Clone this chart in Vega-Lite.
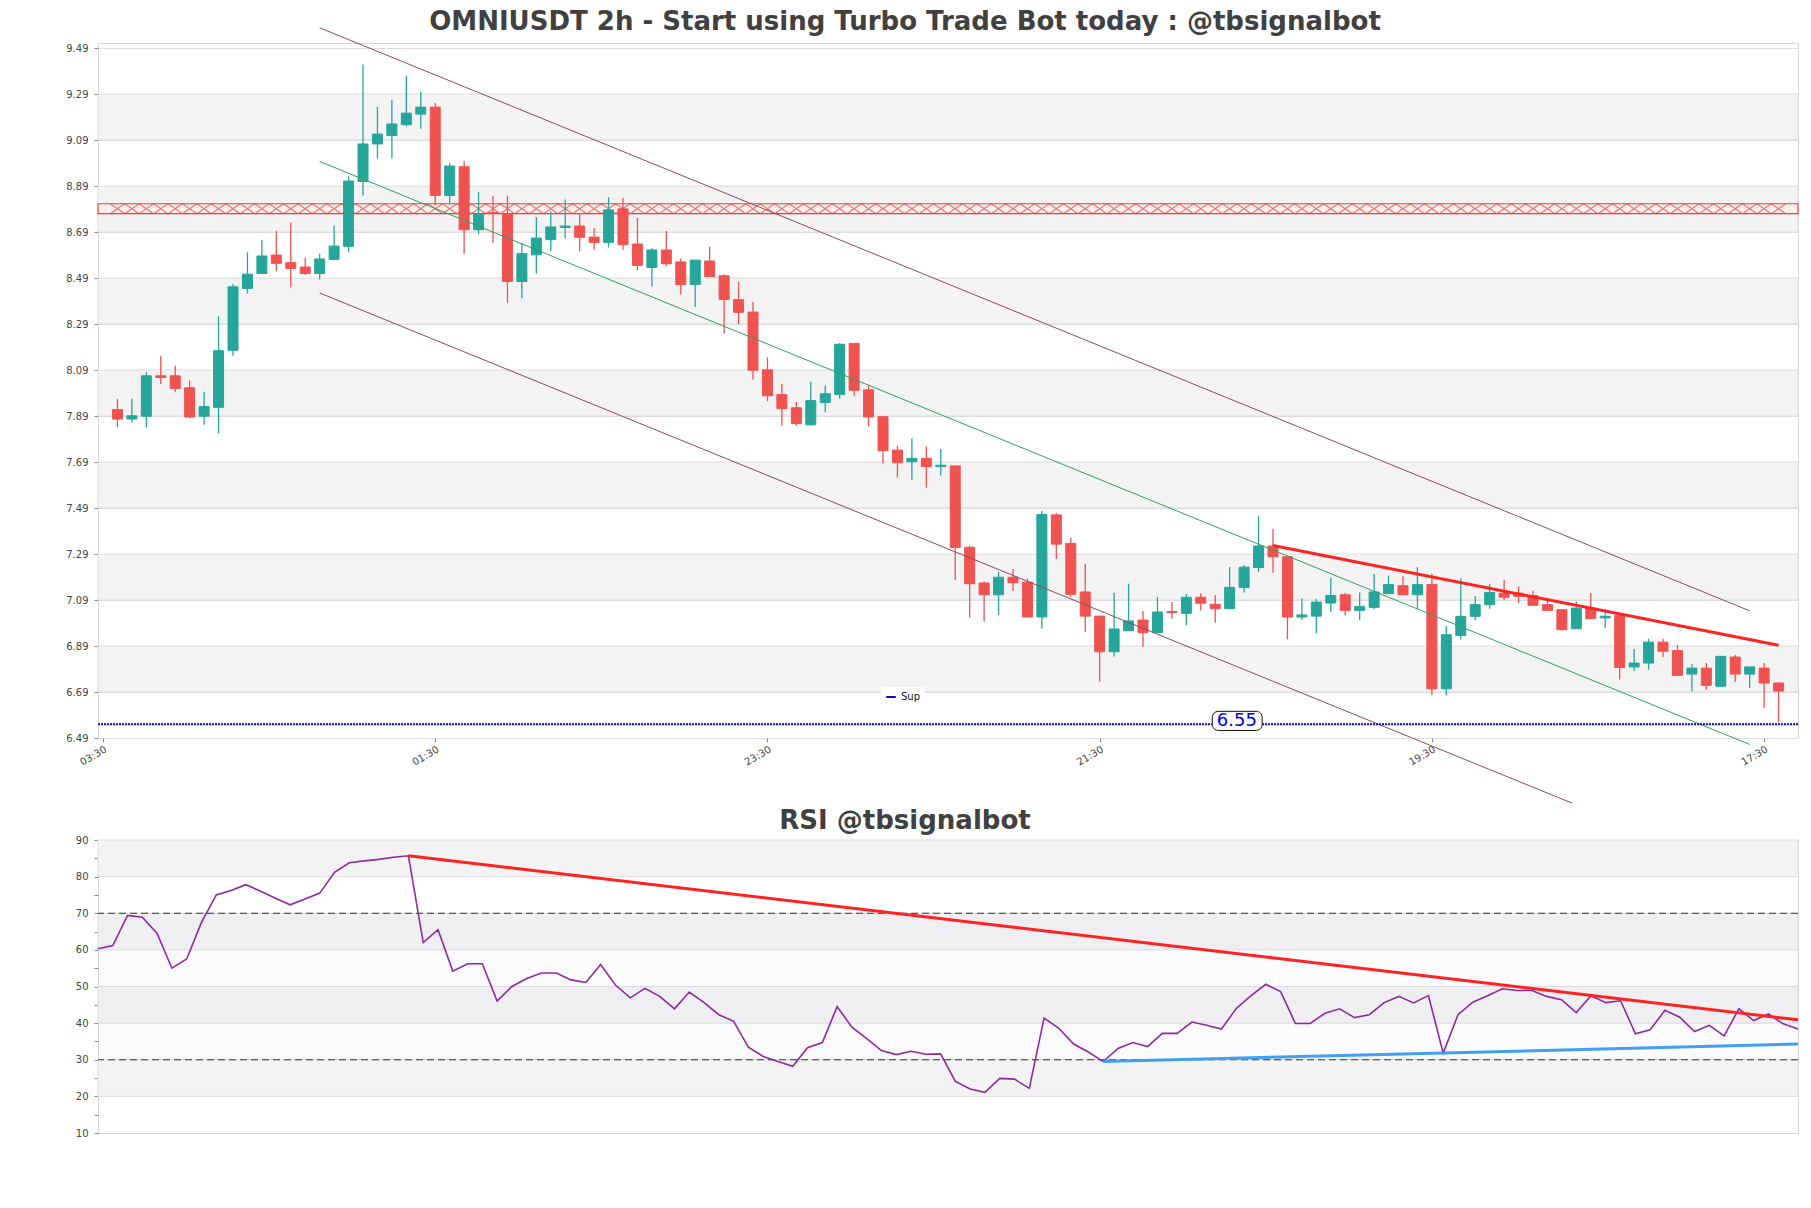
{
  "$schema": "https://vega.github.io/schema/vega-lite/v6.json",
  "background": "white",
  "padding": {"left": 65, "top": 8, "right": 13, "bottom": 10},
  "config": {
    "font": "DejaVu Sans",
    "view": {"stroke": "#d6d6d6"},
    "axis": {"labelFont": "DejaVu Sans", "labelColor": "#444444", "tickColor": "#888888", "labelOverlap": false},
    "legend": {"labelFont": "DejaVu Sans"}
  },
  "datasets": {
    "candles": [
      {"i":0,"o":7.918,"h":7.965,"l":7.841,"c":7.877,"r":60.3},
      {"i":1,"o":7.877,"h":7.965,"l":7.862,"c":7.891,"r":61.2},
      {"i":2,"o":7.889,"h":8.08,"l":7.841,"c":8.065,"r":69.4},
      {"i":3,"o":8.065,"h":8.152,"l":8.029,"c":8.058,"r":68.9},
      {"i":4,"o":8.065,"h":8.109,"l":7.993,"c":8.01,"r":64.5},
      {"i":5,"o":8.013,"h":8.044,"l":7.88,"c":7.886,"r":55.0},
      {"i":6,"o":7.889,"h":7.996,"l":7.852,"c":7.931,"r":57.5},
      {"i":7,"o":7.928,"h":8.323,"l":7.815,"c":8.174,"r":67.5},
      {"i":8,"o":8.176,"h":8.464,"l":8.152,"c":8.452,"r":75.0},
      {"i":9,"o":8.445,"h":8.602,"l":8.423,"c":8.507,"r":76.2},
      {"i":10,"o":8.51,"h":8.657,"l":8.51,"c":8.586,"r":77.8},
      {"i":11,"o":8.59,"h":8.696,"l":8.519,"c":8.554,"r":76.0},
      {"i":12,"o":8.557,"h":8.731,"l":8.449,"c":8.532,"r":74.1},
      {"i":13,"o":8.538,"h":8.578,"l":8.503,"c":8.51,"r":72.3},
      {"i":14,"o":8.51,"h":8.596,"l":8.484,"c":8.573,"r":73.9},
      {"i":15,"o":8.571,"h":8.718,"l":8.567,"c":8.629,"r":75.5},
      {"i":16,"o":8.628,"h":8.932,"l":8.602,"c":8.912,"r":81.2},
      {"i":17,"o":8.91,"h":9.418,"l":8.849,"c":9.073,"r":83.8},
      {"i":18,"o":9.073,"h":9.235,"l":9.01,"c":9.116,"r":84.3},
      {"i":19,"o":9.11,"h":9.265,"l":9.01,"c":9.16,"r":84.7},
      {"i":20,"o":9.157,"h":9.37,"l":9.15,"c":9.207,"r":85.3},
      {"i":21,"o":9.203,"h":9.3,"l":9.139,"c":9.233,"r":85.7},
      {"i":22,"o":9.233,"h":9.251,"l":8.806,"c":8.849,"r":62.0},
      {"i":23,"o":8.849,"h":8.99,"l":8.809,"c":8.977,"r":65.5},
      {"i":24,"o":8.974,"h":9.0,"l":8.596,"c":8.7,"r":54.2},
      {"i":25,"o":8.7,"h":8.865,"l":8.681,"c":8.77,"r":56.2},
      {"i":26,"o":8.775,"h":8.848,"l":8.642,"c":8.77,"r":56.2},
      {"i":27,"o":8.77,"h":8.848,"l":8.381,"c":8.475,"r":46.0},
      {"i":28,"o":8.475,"h":8.642,"l":8.402,"c":8.596,"r":50.0},
      {"i":29,"o":8.591,"h":8.755,"l":8.51,"c":8.664,"r":52.2},
      {"i":30,"o":8.657,"h":8.78,"l":8.606,"c":8.712,"r":53.7},
      {"i":31,"o":8.71,"h":8.831,"l":8.661,"c":8.716,"r":53.7},
      {"i":32,"o":8.716,"h":8.773,"l":8.606,"c":8.667,"r":51.8},
      {"i":33,"o":8.668,"h":8.707,"l":8.613,"c":8.645,"r":51.1},
      {"i":34,"o":8.645,"h":8.842,"l":8.623,"c":8.786,"r":56.0},
      {"i":35,"o":8.791,"h":8.838,"l":8.613,"c":8.635,"r":50.4},
      {"i":36,"o":8.638,"h":8.751,"l":8.523,"c":8.545,"r":46.9},
      {"i":37,"o":8.536,"h":8.62,"l":8.454,"c":8.612,"r":49.5},
      {"i":38,"o":8.612,"h":8.694,"l":8.541,"c":8.552,"r":47.3},
      {"i":39,"o":8.56,"h":8.575,"l":8.418,"c":8.462,"r":43.9},
      {"i":40,"o":8.462,"h":8.568,"l":8.364,"c":8.568,"r":48.5},
      {"i":41,"o":8.564,"h":8.626,"l":8.496,"c":8.496,"r":45.6},
      {"i":42,"o":8.5,"h":8.507,"l":8.249,"c":8.397,"r":42.3},
      {"i":43,"o":8.396,"h":8.473,"l":8.289,"c":8.341,"r":40.5},
      {"i":44,"o":8.342,"h":8.386,"l":8.048,"c":8.089,"r":33.4},
      {"i":45,"o":8.091,"h":8.145,"l":7.954,"c":7.978,"r":30.9},
      {"i":46,"o":7.983,"h":8.029,"l":7.848,"c":7.922,"r":29.5},
      {"i":47,"o":7.926,"h":7.951,"l":7.849,"c":7.857,"r":28.2},
      {"i":48,"o":7.852,"h":8.039,"l":7.849,"c":7.957,"r":33.3},
      {"i":49,"o":7.949,"h":8.022,"l":7.906,"c":7.987,"r":34.7},
      {"i":50,"o":7.984,"h":8.207,"l":7.965,"c":8.202,"r":44.5},
      {"i":51,"o":8.206,"h":8.206,"l":7.976,"c":8.002,"r":38.9},
      {"i":52,"o":8.004,"h":8.026,"l":7.845,"c":7.886,"r":35.8},
      {"i":53,"o":7.887,"h":7.89,"l":7.684,"c":7.739,"r":32.5},
      {"i":54,"o":7.742,"h":7.76,"l":7.622,"c":7.687,"r":31.4},
      {"i":55,"o":7.691,"h":7.793,"l":7.613,"c":7.706,"r":32.3},
      {"i":56,"o":7.706,"h":7.757,"l":7.578,"c":7.67,"r":31.5},
      {"i":57,"o":7.67,"h":7.747,"l":7.631,"c":7.676,"r":31.6},
      {"i":58,"o":7.673,"h":7.673,"l":7.177,"c":7.318,"r":24.1},
      {"i":59,"o":7.319,"h":7.326,"l":7.013,"c":7.161,"r":22.0},
      {"i":60,"o":7.164,"h":7.17,"l":6.997,"c":7.113,"r":21.1},
      {"i":61,"o":7.113,"h":7.213,"l":7.025,"c":7.189,"r":24.9},
      {"i":62,"o":7.189,"h":7.225,"l":7.129,"c":7.165,"r":24.7},
      {"i":63,"o":7.168,"h":7.183,"l":7.016,"c":7.016,"r":22.2},
      {"i":64,"o":7.016,"h":7.477,"l":6.965,"c":7.462,"r":41.4},
      {"i":65,"o":7.46,"h":7.467,"l":7.268,"c":7.333,"r":38.6},
      {"i":66,"o":7.336,"h":7.361,"l":7.104,"c":7.115,"r":34.3},
      {"i":67,"o":7.125,"h":7.248,"l":6.952,"c":7.02,"r":32.1},
      {"i":68,"o":7.02,"h":7.02,"l":6.735,"c":6.865,"r":29.5},
      {"i":69,"o":6.865,"h":7.122,"l":6.844,"c":6.964,"r":33.1},
      {"i":70,"o":6.957,"h":7.161,"l":6.957,"c":6.999,"r":34.7},
      {"i":71,"o":7.003,"h":7.042,"l":6.887,"c":6.948,"r":33.6},
      {"i":72,"o":6.948,"h":7.103,"l":6.948,"c":7.038,"r":37.2},
      {"i":73,"o":7.04,"h":7.081,"l":7.009,"c":7.035,"r":37.2},
      {"i":74,"o":7.032,"h":7.116,"l":6.98,"c":7.102,"r":40.3},
      {"i":75,"o":7.102,"h":7.119,"l":7.044,"c":7.076,"r":39.4},
      {"i":76,"o":7.071,"h":7.112,"l":6.991,"c":7.052,"r":38.4},
      {"i":77,"o":7.052,"h":7.233,"l":7.052,"c":7.145,"r":44.0},
      {"i":78,"o":7.144,"h":7.241,"l":7.123,"c":7.233,"r":47.5},
      {"i":79,"o":7.231,"h":7.455,"l":7.213,"c":7.325,"r":50.6},
      {"i":80,"o":7.325,"h":7.399,"l":7.209,"c":7.278,"r":48.6},
      {"i":81,"o":7.278,"h":7.278,"l":6.919,"c":7.016,"r":39.9},
      {"i":82,"o":7.016,"h":7.097,"l":7.003,"c":7.025,"r":39.9},
      {"i":83,"o":7.02,"h":7.096,"l":6.945,"c":7.081,"r":42.7},
      {"i":84,"o":7.077,"h":7.186,"l":7.038,"c":7.11,"r":43.9},
      {"i":85,"o":7.113,"h":7.12,"l":7.023,"c":7.045,"r":41.5},
      {"i":86,"o":7.045,"h":7.123,"l":7.002,"c":7.062,"r":42.3},
      {"i":87,"o":7.058,"h":7.204,"l":7.051,"c":7.125,"r":45.6},
      {"i":88,"o":7.118,"h":7.196,"l":7.118,"c":7.157,"r":47.3},
      {"i":89,"o":7.152,"h":7.193,"l":7.113,"c":7.113,"r":45.5},
      {"i":90,"o":7.113,"h":7.233,"l":7.051,"c":7.157,"r":47.5},
      {"i":91,"o":7.157,"h":7.204,"l":6.676,"c":6.704,"r":31.8},
      {"i":92,"o":6.704,"h":6.976,"l":6.676,"c":6.939,"r":42.3},
      {"i":93,"o":6.936,"h":7.183,"l":6.918,"c":7.019,"r":45.7},
      {"i":94,"o":7.019,"h":7.106,"l":7.002,"c":7.07,"r":47.5},
      {"i":95,"o":7.07,"h":7.161,"l":7.052,"c":7.123,"r":49.4},
      {"i":96,"o":7.12,"h":7.178,"l":7.089,"c":7.102,"r":48.9},
      {"i":97,"o":7.12,"h":7.149,"l":7.077,"c":7.106,"r":48.9},
      {"i":98,"o":7.109,"h":7.131,"l":7.067,"c":7.067,"r":47.3},
      {"i":99,"o":7.07,"h":7.094,"l":7.045,"c":7.045,"r":46.4},
      {"i":100,"o":7.048,"h":7.048,"l":6.958,"c":6.961,"r":42.9},
      {"i":101,"o":6.965,"h":7.084,"l":6.965,"c":7.055,"r":47.5},
      {"i":102,"o":7.055,"h":7.12,"l":7.009,"c":7.009,"r":45.6},
      {"i":103,"o":7.012,"h":7.051,"l":6.968,"c":7.019,"r":46.1},
      {"i":104,"o":7.023,"h":7.023,"l":6.744,"c":6.797,"r":37.1},
      {"i":105,"o":6.799,"h":6.877,"l":6.78,"c":6.816,"r":38.2},
      {"i":106,"o":6.816,"h":6.922,"l":6.787,"c":6.907,"r":43.5},
      {"i":107,"o":6.907,"h":6.922,"l":6.841,"c":6.867,"r":41.6},
      {"i":108,"o":6.87,"h":6.896,"l":6.762,"c":6.762,"r":37.7},
      {"i":109,"o":6.768,"h":6.812,"l":6.693,"c":6.794,"r":39.4},
      {"i":110,"o":6.794,"h":6.816,"l":6.7,"c":6.719,"r":36.5},
      {"i":111,"o":6.715,"h":6.845,"l":6.712,"c":6.845,"r":43.9},
      {"i":112,"o":6.842,"h":6.852,"l":6.733,"c":6.768,"r":40.7},
      {"i":113,"o":6.768,"h":6.799,"l":6.707,"c":6.799,"r":42.5},
      {"i":114,"o":6.794,"h":6.816,"l":6.62,"c":6.729,"r":39.8},
      {"i":115,"o":6.729,"h":6.733,"l":6.558,"c":6.694,"r":38.4}
    ],
    "pbands": [
      {"lo":9.09,"hi":9.29},{"lo":8.69,"hi":8.89},{"lo":8.29,"hi":8.49},{"lo":7.89,"hi":8.09},
      {"lo":7.49,"hi":7.69},{"lo":7.09,"hi":7.29},{"lo":6.69,"hi":6.89}
    ],
    "rbands": [{"lo":80,"hi":90},{"lo":60,"hi":70},{"lo":40,"hi":50},{"lo":20,"hi":30}],
    "plines": [
      {"line":"upper","i":14,"p":9.578},{"line":"upper","i":113,"p":7.043},
      {"line":"mid","i":14,"p":8.997},{"line":"mid","i":113,"p":6.462},
      {"line":"lower","i":14,"p":8.425},{"line":"lower","i":100.7,"p":6.207},
      {"line":"res","i":80,"p":7.327},{"line":"res","i":115,"p":6.893}
    ],
    "rlines": [
      {"line":"down","i":21,"r":85.7},{"line":"down","i":115,"r":40.9},
      {"line":"up","i":68,"r":29.5},{"line":"up","i":115,"r":34.3}
    ]
  },
  "bounds": "flush",
  "spacing": 102,
  "vconcat": [
    {
      "width": 1700,
      "height": 695,
      "title": {"text": "OMNIUSDT 2h - Start using Turbo Trade Bot today : @tbsignalbot", "fontSize": 26, "fontWeight": "bold", "color": "#404040", "anchor": "middle", "dx": -43, "offset": -30, "baseline": "alphabetic", "font": "DejaVu Sans"},
      "layer": [
        {
          "data": {"name": "pbands"},
          "mark": {"type": "rect", "fill": "#f3f3f3", "stroke": "#dddddd", "strokeWidth": 1},
          "encoding": {
            "y": {"field": "lo", "type": "quantitative", "scale": {"domain": [6.49, 9.512], "nice": false, "zero": false},
              "axis": {"values": [6.49,6.69,6.89,7.09,7.29,7.49,7.69,7.89,8.09,8.29,8.49,8.69,8.89,9.09,9.29,9.49], "format": ".2f", "title": null, "grid": true, "gridColor": "#dddddd", "domain": false, "tickSize": 4, "labelPadding": 6, "labelFontSize": 10, "labelOverlap": false}},
            "y2": {"field": "hi"}
          }
        },
        {
          "data": {"values": [{}]},
          "mark": {"type": "rect", "fill": "#fff0f0", "stroke": "#e8413c", "strokeWidth": 1.2},
          "encoding": {"y": {"datum": 8.77}, "y2": {"datum": 8.813}}
        },
        {
          "data": {"name": "candles"},
          "mark": {"type": "point", "shape": "M-1,-0.7L1,0.7M-1,0.7L1,-0.7", "filled": false, "color": "#e8413c", "strokeWidth": 1.2, "size": 205},
          "encoding": {
            "x": {"field": "i", "type": "quantitative", "scale": {"domain": [-1, 116], "nice": false, "zero": false}},
            "y": {"datum": 8.7915}
          }
        },
        {
          "data": {"name": "candles"},
          "mark": {"type": "rule", "strokeWidth": 1.3},
          "encoding": {
            "x": {"field": "i", "type": "quantitative", "scale": {"domain": [-1, 116], "nice": false, "zero": false},
              "axis": {"values": [-1, 22, 45, 68, 91, 114], "labelExpr": "datum.value == -1 ? '03:30' : datum.value == 22 ? '01:30' : datum.value == 45 ? '23:30' : datum.value == 68 ? '21:30' : datum.value == 91 ? '19:30' : '17:30'", "labelAngle": -30, "labelFlush": false, "labelOverlap": false, "title": null, "grid": false, "domain": false, "tickSize": 4, "labelFontSize": 10, "labelPadding": 2}},
            "y": {"field": "l", "type": "quantitative"},
            "y2": {"field": "h"},
            "color": {"condition": {"test": "datum.c >= datum.o", "value": "#26a69a"}, "value": "#ef5350"}
          }
        },
        {
          "data": {"name": "candles"},
          "mark": {"type": "bar", "size": 10, "strokeWidth": 1},
          "encoding": {
            "x": {"field": "i", "type": "quantitative"},
            "y": {"field": "o", "type": "quantitative"},
            "y2": {"field": "c"},
            "color": {"condition": {"test": "datum.c >= datum.o", "value": "#26a69a"}, "value": "#ef5350"},
            "stroke": {"condition": {"test": "datum.c >= datum.o", "value": "#26a69a"}, "value": "#ef5350"}
          }
        },
        {
          "data": {"name": "plines"},
          "transform": [{"filter": "datum.line == 'upper' || datum.line == 'lower'"}],
          "mark": {"type": "line", "strokeWidth": 1, "color": "#8a4a5e", "clip": false},
          "encoding": {
            "x": {"field": "i", "type": "quantitative"},
            "y": {"field": "p", "type": "quantitative"},
            "detail": {"field": "line"}
          }
        },
        {
          "data": {"name": "plines"},
          "transform": [{"filter": "datum.line == 'mid'"}],
          "mark": {"type": "line", "strokeWidth": 1, "color": "#2f9e62", "clip": false},
          "encoding": {
            "x": {"field": "i", "type": "quantitative"},
            "y": {"field": "p", "type": "quantitative"}
          }
        },
        {
          "data": {"name": "plines"},
          "transform": [{"filter": "datum.line == 'res'"}],
          "mark": {"type": "line", "strokeWidth": 3, "color": "#ff2222", "clip": false},
          "encoding": {
            "x": {"field": "i", "type": "quantitative"},
            "y": {"field": "p", "type": "quantitative"}
          }
        },
        {
          "data": {"values": [{}]},
          "mark": {"type": "rule", "strokeWidth": 2, "strokeDash": [2, 1]},
          "encoding": {
            "y": {"datum": 6.55},
            "stroke": {"datum": "Sup", "type": "nominal", "scale": {"range": ["#0a0ac8"]},
              "legend": {"orient": "none", "legendX": 783, "legendY": 644, "title": null, "symbolType": "stroke", "symbolStrokeWidth": 2, "symbolSize": 90, "labelFontSize": 10, "labelColor": "#111111", "fillColor": "white", "padding": 4}}
          }
        },
        {
          "data": {"values": [{}]},
          "mark": {"type": "rect", "fill": "white", "stroke": "#111111", "strokeWidth": 1, "cornerRadius": 6},
          "encoding": {
            "x": {"datum": 75.8}, "x2": {"datum": 79.25},
            "y": {"datum": 6.523}, "y2": {"datum": 6.606}
          }
        },
        {
          "data": {"values": [{}]},
          "mark": {"type": "text", "text": "6.55", "fontSize": 18, "color": "#0000dd", "align": "center", "baseline": "middle"},
          "encoding": {"x": {"datum": 77.5}, "y": {"datum": 6.563}}
        }
      ]
    },
    {
      "width": 1700,
      "height": 293,
      "title": {"text": "RSI @tbsignalbot", "fontSize": 26, "fontWeight": "bold", "color": "#404040", "anchor": "middle", "dx": -43, "offset": -20, "baseline": "alphabetic", "font": "DejaVu Sans"},
      "resolve": {"axis": {"y": "independent"}},
      "layer": [
        {
          "data": {"name": "rbands"},
          "mark": {"type": "rect", "fill": "#f3f3f3", "stroke": "#dddddd", "strokeWidth": 1},
          "encoding": {
            "y": {"field": "lo", "type": "quantitative", "scale": {"domain": [10, 90], "nice": false, "zero": false},
              "axis": {"orient": "left", "values": [10,15,20,25,30,35,40,45,50,55,60,65,70,75,80,85,90], "labelExpr": "datum.value % 10 == 0 ? datum.label : ''", "title": null, "grid": false, "domain": false, "tickSize": 4, "labelPadding": 6, "labelFontSize": 10, "labelOverlap": false}},
            "y2": {"field": "hi"}
          }
        },
        {
          "data": {"values": [{}]},
          "mark": {"type": "rect", "fill": "#c4b4d8", "opacity": 0.07},
          "encoding": {"y": {"datum": 30, "axis": null}, "y2": {"datum": 70}}
        },
        {
          "data": {"values": [{"lvl": 30}, {"lvl": 70}]},
          "mark": {"type": "rule", "color": "#333333", "strokeWidth": 1.2, "strokeDash": [7, 4]},
          "encoding": {"y": {"field": "lvl", "type": "quantitative", "axis": null}}
        },
        {
          "data": {"name": "candles"},
          "mark": {"type": "line", "color": "#8e2aa0", "strokeWidth": 1.6},
          "encoding": {
            "x": {"field": "i", "type": "quantitative", "scale": {"domain": [0, 115], "nice": false, "zero": false}, "axis": null},
            "y": {"field": "r", "type": "quantitative", "axis": null}
          }
        },
        {
          "data": {"name": "rlines"},
          "transform": [{"filter": "datum.line == 'down'"}],
          "mark": {"type": "line", "strokeWidth": 3, "color": "#ff2222"},
          "encoding": {
            "x": {"field": "i", "type": "quantitative", "axis": null},
            "y": {"field": "r", "type": "quantitative", "axis": null}
          }
        },
        {
          "data": {"name": "rlines"},
          "transform": [{"filter": "datum.line == 'up'"}],
          "mark": {"type": "line", "strokeWidth": 3, "color": "#42a0f0"},
          "encoding": {
            "x": {"field": "i", "type": "quantitative", "axis": null},
            "y": {"field": "r", "type": "quantitative", "axis": null}
          }
        }
      ]
    }
  ]
}
